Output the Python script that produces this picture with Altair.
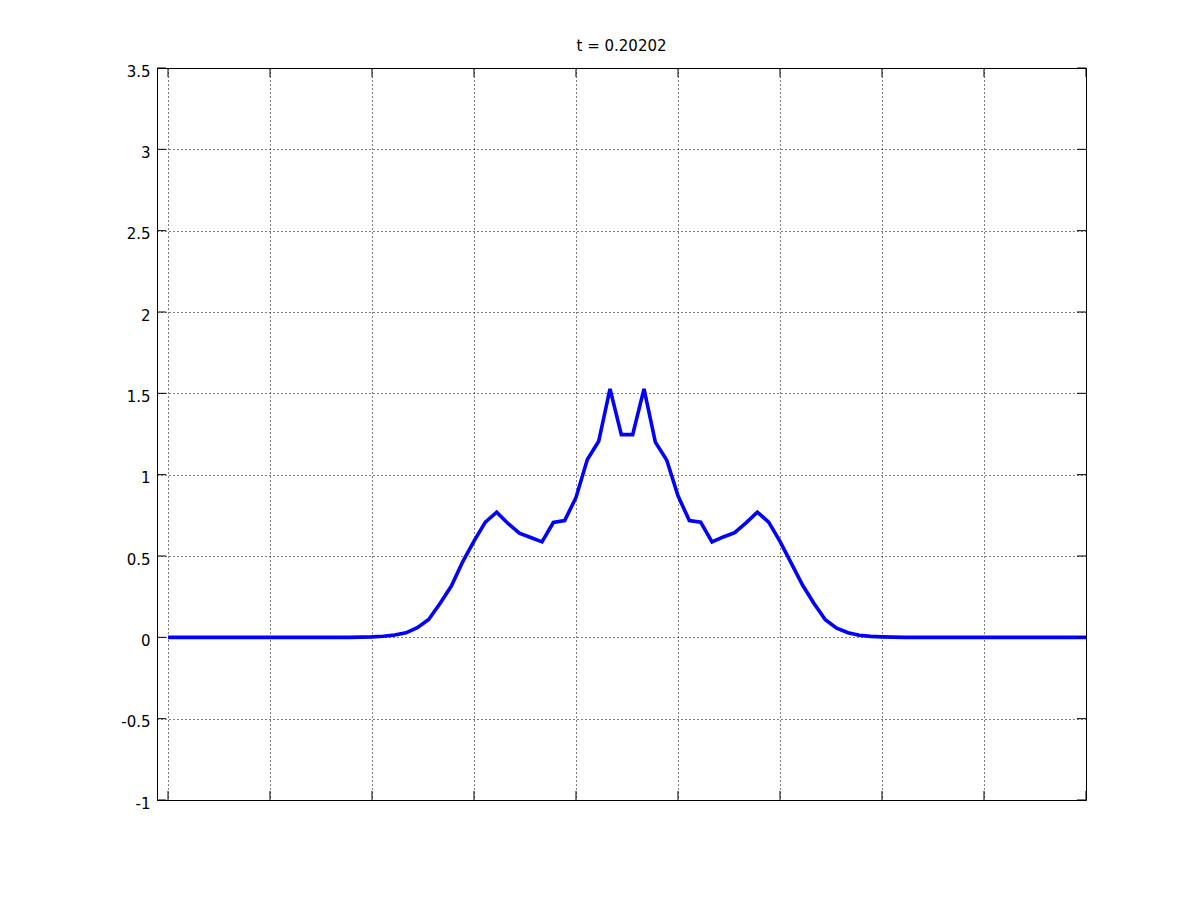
import altair as alt
import pandas as pd

# sample index j (x = j/9), curve values
sample_index = list(range(0, 82))
y_values = [0.0] * 17 + [
    0.001, 0.003, 0.007, 0.014, 0.028, 0.059, 0.110, 0.208, 0.315, 0.464,
    0.591, 0.708, 0.769, 0.700, 0.641, 0.614, 0.587, 0.706, 0.718, 0.860,
    1.093, 1.205, 1.527, 1.246, 1.246, 1.527, 1.200, 1.090, 0.870, 0.718,
    0.708, 0.587, 0.617, 0.644, 0.704, 0.770, 0.708, 0.590, 0.455, 0.320,
    0.208, 0.108, 0.056, 0.028, 0.013, 0.006, 0.003, 0.001,
] + [0.0] * 17

x_ticks = [0, 1, 2, 3, 4, 5, 6, 7, 8, 9]
y_ticks = [-1, -0.5, 0, 0.5, 1, 1.5, 2, 2.5, 3, 3.5]
title_text = "t = 0.20202"

W, H = 929, 732
TL = 9

curve = pd.DataFrame({"x": [j / 9 for j in sample_index], "y": y_values})
xt = pd.DataFrame({"xt": x_ticks})
yt = pd.DataFrame({"yt": y_ticks})

xscale = alt.Scale(domain=[-0.108, 9], nice=False, zero=False)
yscale = alt.Scale(domain=[-1, 3.5], nice=False, zero=False)

line = alt.Chart(curve).mark_line(color="#0000ff", strokeWidth=3.6, clip=True).encode(
    x=alt.X("x:Q", scale=xscale,
            axis=alt.Axis(values=x_ticks, labels=False, ticks=False, domain=False,
                          grid=True, title=None)),
    y=alt.Y("y:Q", scale=yscale,
            axis=alt.Axis(values=y_ticks, ticks=False, domain=False, grid=True,
                          title=None, labelExpr="toString(datum.value)",
                          labelOffset=3, labelPadding=7)),
)

xb = alt.Chart(xt).mark_rule(color="black", strokeWidth=1).encode(
    x=alt.X("xt:Q", scale=xscale), y=alt.value(H), y2=alt.value(H - TL))
xtop = alt.Chart(xt).mark_rule(color="black", strokeWidth=1).encode(
    x=alt.X("xt:Q", scale=xscale), y=alt.value(0), y2=alt.value(TL))
yl = alt.Chart(yt).mark_rule(color="black", strokeWidth=1).encode(
    y=alt.Y("yt:Q", scale=yscale), x=alt.value(0), x2=alt.value(TL))
yr = alt.Chart(yt).mark_rule(color="black", strokeWidth=1).encode(
    y=alt.Y("yt:Q", scale=yscale), x=alt.value(W - TL), x2=alt.value(W))

chart = alt.layer(line, xb, xtop, yl, yr).properties(
    width=W, height=H,
    title=alt.TitleParams(title_text, anchor="middle", fontSize=15, font="DejaVu Sans",
                          fontWeight="normal", color="black", offset=10),
    autosize=alt.AutoSizeParams(type="none"),
    padding={"left": 149, "top": 60, "right": 100, "bottom": 90},
    background="white",
).configure_view(
    stroke="black", strokeWidth=1
).configure_axis(
    gridColor="black", gridDash=[1, 3], gridOpacity=1, gridWidth=1,
    labelFont="DejaVu Sans", labelFontSize=15, labelColor="black",
)

chart.save("out.html", embed_options={"renderer": "svg", "actions": False})
